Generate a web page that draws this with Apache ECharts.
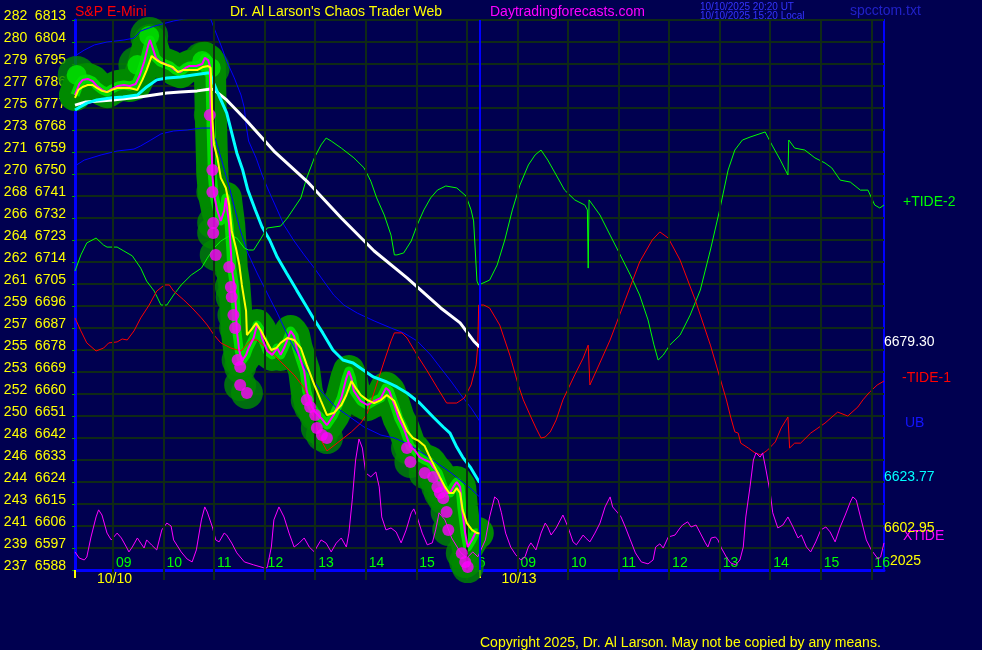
<!DOCTYPE html>
<html><head><meta charset="utf-8">
<script src="https://cdn.jsdelivr.net/npm/echarts@6/dist/echarts.min.js"></script>
<style>html,body{margin:0;padding:0;background:#000050;}#c{width:982px;height:650px;}</style>
</head><body><div id="c"></div>
<script>
// x = minutes of the combined trading timeline (08:15 of 10/10 = 0, 08:15 of 10/13 = 480)
const hourMarks = [45,105,165,225,285,345,405,465,525,585,645,705,765,825,885,945];
const sessionStarts = [0,480];
const sessionDates = ['10/10','10/13'];
const leftScale = [237,239,241,243,244,246,248,250,252,253,255,257,259,261,262,264,266,268,270,271,273,275,277,279,280,282];
const valueTags = [6679.30, 6623.77, 6602.95];
const valueTagColors = ['#ffffff','#00ffff','#ffff00'];

const priceLine = [[0,6782.3],[5,6786.8],[9,6788.5],[15,6788.9],[21,6788.0],[26,6786.0],[32,6784.4],[38,6783.5],[44,6784.8],[51,6786.0],[58,6786.4],[65,6786.0],[72,6786.8],[77,6790.5],[82,6795.8],[87,6802.8],[89,6804.8],[93,6800.7],[96,6797.5],[101,6795.8],[107,6795.0],[113,6794.2],[119,6792.5],[125,6791.7],[131,6793.4],[136,6794.2],[144,6794.2],[151,6795.0],[154,6797.5],[158,6796.6],[160,6794.2],[161,6776.2],[163,6749.6],[165,6741.4],[169,6734.9],[173,6730.8],[177,6734.9],[179,6740.2],[180,6737.3],[183,6729.1],[185,6718.5],[186,6711.5],[189,6704.6],[191,6695.2],[192,6685.8],[195,6677.6],[198,6673.5],[203,6676.0],[206,6678.8],[212,6682.9],[216,6688.2],[220,6686.2],[222,6682.9],[228,6677.6],[234,6676.0],[240,6678.8],[244,6676.0],[248,6678.8],[252,6682.1],[256,6685.8],[260,6683.7],[263,6678.8],[272,6669.4],[275,6661.2],[280,6655.5],[284,6653.0],[292,6650.2],[299,6647.3],[307,6651.4],[316,6658.4],[322,6666.5],[325,6669.4],[328,6666.5],[331,6661.2],[339,6657.1],[347,6655.5],[355,6657.1],[363,6658.4],[369,6662.5],[373,6661.2],[379,6655.5],[384,6650.2],[390,6646.1],[398,6638.3],[403,6637.1],[409,6634.2],[415,6633.0],[421,6632.2],[425,6630.1],[431,6627.7],[437,6622.0],[441,6619.5],[445,6619.5],[449,6622.0],[453,6624.0],[457,6622.0],[459,6613.8],[463,6603.1],[466,6597.4],[471,6600.3],[475,6603.1],[478,6603.1]];

const smoothLine = [[0,6781.1],[4,6784.4],[9,6785.6],[15,6786.4],[21,6786.4],[26,6785.2],[32,6784.0],[38,6783.5],[44,6784.4],[50,6785.2],[57,6785.2],[65,6785.2],[74,6784.4],[80,6788.5],[85,6792.5],[91,6798.3],[97,6796.6],[103,6795.4],[109,6794.6],[116,6793.8],[122,6791.7],[128,6792.5],[136,6792.5],[145,6792.5],[152,6793.8],[158,6794.2],[161,6793.4],[163,6772.9],[165,6761.9],[169,6756.5],[173,6748.4],[179,6744.3],[183,6737.3],[186,6726.7],[191,6719.7],[195,6712.8],[198,6704.6],[203,6694.0],[204,6684.1],[209,6686.2],[215,6689.0],[221,6685.8],[227,6681.7],[233,6678.0],[239,6678.8],[244,6680.9],[252,6682.9],[260,6682.1],[268,6678.8],[275,6671.9],[284,6663.7],[292,6657.1],[299,6651.4],[307,6652.2],[316,6655.5],[322,6659.6],[328,6665.3],[333,6662.5],[339,6659.6],[347,6657.5],[355,6656.3],[363,6657.5],[370,6659.6],[379,6657.1],[387,6650.2],[394,6644.9],[401,6642.0],[408,6640.8],[415,6638.7],[421,6634.2],[427,6630.1],[433,6626.0],[439,6622.0],[444,6619.5],[449,6619.5],[453,6621.5],[457,6619.5],[460,6612.5],[465,6607.2],[471,6604.4],[477,6603.1],[480,6602.95]];

const fastMA = [[0,6776.2],[6,6777.4],[14,6779.0],[26,6780.3],[42,6781.1],[57,6781.5],[74,6782.3],[85,6785.6],[97,6788.5],[109,6789.3],[125,6789.7],[140,6790.5],[157,6791.3],[160,6791.3],[164,6787.6],[172,6781.1],[180,6775.0],[186,6766.8],[192,6758.6],[199,6751.6],[205,6743.5],[214,6735.3],[222,6728.3],[231,6723.0],[240,6716.0],[251,6709.5],[263,6702.5],[275,6695.6],[282,6691.5],[294,6685.0],[306,6678.0],[318,6673.9],[330,6672.7],[342,6669.8],[354,6667.0],[370,6664.9],[382,6662.9],[394,6660.4],[409,6656.3],[425,6650.6],[437,6646.5],[445,6644.0],[453,6638.3],[460,6634.2],[469,6630.1],[480,6623.77]];

const slowMA = [[0,6778.2],[13,6779.5],[45,6780.3],[77,6781.5],[109,6783.1],[125,6783.5],[145,6784.0],[161,6784.8],[165,6784.4],[180,6780.3],[204,6771.7],[236,6759.4],[275,6747.1],[316,6732.0],[355,6718.5],[394,6707.5],[434,6695.2],[457,6689.1],[473,6681.7],[480,6679.3]];

const upperBand = [[0,6798.3],[11,6800.7],[23,6802.8],[38,6804.0],[58,6804.8],[70,6805.6],[78,6808.5],[94,6810.5],[117,6812.6],[129,6813.4],[148,6814.2],[161,6813.4],[165,6809.7],[173,6802.8],[180,6796.2],[189,6789.3],[197,6782.3],[201,6777.0],[203,6770.0],[206,6763.5],[215,6756.5],[222,6749.6],[230,6743.0],[239,6736.1],[248,6729.1],[260,6722.6],[272,6716.9],[284,6711.5],[295,6706.2],[307,6700.5],[319,6696.4],[335,6693.1],[355,6689.9],[375,6687.0],[390,6685.0],[406,6681.7],[422,6676.0],[434,6670.6],[446,6665.3],[458,6659.6],[470,6654.3],[480,6649.0]];

const lowerBand = [[0,6753.3],[11,6755.7],[31,6757.8],[50,6759.4],[70,6760.2],[78,6761.5],[90,6763.9],[102,6766.4],[117,6767.6],[133,6768.0],[150,6768.8],[161,6768.8],[167,6763.9],[174,6755.7],[184,6743.5],[196,6727.1],[205,6717.7],[216,6709.5],[228,6701.3],[240,6693.1],[255,6682.1],[273,6670.6],[291,6661.6],[309,6654.7],[323,6651.4],[343,6646.5],[363,6643.2],[379,6642.0],[398,6639.1],[421,6633.8],[445,6628.1],[469,6621.5],[480,6617.9]];

const tide2 = [[0,6710.3],[7,6716.9],[14,6721.8],[25,6723.8],[34,6720.9],[38,6720.1],[50,6720.1],[58,6718.5],[68,6716.5],[78,6711.5],[85,6706.2],[94,6702.1],[102,6696.4],[109,6696.4],[117,6700.5],[126,6704.6],[138,6708.7],[150,6711.5],[157,6715.6],[165,6719.7],[173,6722.6],[185,6725.0],[192,6723.8],[201,6719.7],[206,6718.9],[212,6718.9],[221,6723.8],[228,6727.9],[244,6728.7],[252,6732.0],[260,6736.1],[268,6740.2],[275,6748.4],[284,6756.6],[292,6761.9],[298,6764.7],[304,6763.5],[316,6760.6],[331,6756.6],[343,6752.5],[351,6747.1],[358,6740.2],[367,6733.2],[375,6725.0],[379,6716.9],[382,6716.9],[390,6717.7],[399,6722.6],[406,6729.1],[414,6735.3],[422,6740.2],[430,6743.4],[440,6745.1],[453,6744.3],[464,6741.0],[470,6735.3],[473,6730.8],[477,6706.2],[479,6704.6],
[492,6706.6],[501,6712.8],[510,6723.0],[519,6735.3],[528,6745.5],[538,6753.7],[546,6757.8],[553,6759.8],[561,6755.7],[571,6749.6],[581,6743.4],[593,6739.4],[605,6737.3],[608,6735.3],[609,6711.5],[610,6739.4],[623,6733.2],[635,6725.0],[647,6716.9],[659,6708.7],[670,6700.5],[680,6690.3],[687,6680.1],[692,6673.9],[698,6675.9],[706,6680.1],[718,6684.1],[730,6692.3],[742,6702.5],[754,6718.9],[765,6735.3],[775,6751.6],[783,6759.8],[792,6763.9],[801,6765.1],[819,6767.2],[827,6761.9],[837,6755.7],[843,6751.6],[846,6749.6],[847,6763.9],[854,6760.6],[866,6759.8],[878,6756.6],[890,6754.5],[898,6752.5],[908,6747.5],[920,6746.7],[932,6743.4],[941,6743.4],[949,6737.3],[955,6736.1],[960,6737.3]];

const tide1 = [[0,6691.1],[7,6685.8],[14,6680.9],[25,6677.6],[34,6678.8],[40,6680.9],[50,6681.3],[56,6682.5],[62,6682.1],[70,6685.8],[78,6691.1],[88,6696.4],[97,6702.1],[106,6704.6],[112,6704.6],[117,6702.1],[129,6698.5],[139,6695.2],[150,6691.1],[157,6688.2],[165,6684.1],[173,6680.9],[185,6678.8],[197,6677.6],[209,6682.1],[216,6682.1],[227,6678.8],[236,6676.0],[248,6671.9],[260,6667.8],[272,6662.5],[279,6655.5],[286,6647.3],[292,6641.2],[299,6636.7],[311,6639.9],[328,6644.5],[339,6648.1],[347,6652.2],[355,6660.8],[367,6673.5],[375,6681.7],[379,6685.0],[388,6685.0],[394,6682.9],[406,6675.9],[418,6669.4],[430,6662.5],[441,6656.3],[453,6656.3],[462,6658.4],[470,6663.7],[476,6671.9],[478,6680.0],[479,6696.4],
[485,6696.4],[492,6695.2],[504,6688.2],[516,6675.9],[526,6663.7],[532,6657.6],[541,6650.6],[547,6646.1],[553,6642.0],[558,6642.4],[564,6644.5],[571,6649.4],[579,6657.6],[593,6667.8],[603,6674.7],[609,6680.0],[611,6663.7],[618,6669.0],[635,6682.1],[653,6698.5],[670,6714.0],[685,6723.0],[694,6726.3],[704,6723.8],[718,6714.8],[736,6698.5],[754,6680.0],[773,6657.6],[778,6650.6],[783,6644.5],[787,6644.0],[790,6639.9],[799,6637.9],[807,6635.9],[814,6635.1],[822,6637.1],[831,6640.4],[838,6646.1],[846,6650.6],[848,6637.9],[854,6639.9],[861,6639.9],[873,6644.0],[890,6648.1],[905,6652.6],[917,6651.0],[929,6654.7],[935,6657.6],[943,6660.8],[952,6663.7],[960,6665.3]];

const xtide = [[0,6595.4],[5,6592.9],[11,6592.1],[14,6593.3],[19,6601.5],[25,6609.7],[28,6612.6],[32,6610.5],[38,6603.1],[43,6600.3],[46,6601.5],[50,6603.1],[55,6601.1],[61,6597.4],[64,6595.4],[68,6597.4],[74,6601.1],[78,6599.0],[82,6597.0],[85,6600.3],[91,6598.2],[97,6596.2],[103,6604.4],[109,6607.2],[114,6606.0],[117,6600.3],[126,6595.4],[133,6592.5],[139,6591.3],[144,6596.2],[150,6608.5],[154,6613.8],[157,6611.7],[163,6605.6],[167,6600.3],[171,6599.5],[177,6603.1],[180,6602.3],[186,6599.0],[192,6595.0],[201,6591.3],[212,6590.1],[224,6588.9],[228,6588.9],[233,6597.4],[236,6608.5],[242,6613.8],[248,6609.7],[254,6603.1],[260,6597.4],[266,6599.0],[272,6601.1],[278,6597.4],[284,6595.4],[287,6597.4],[292,6600.3],[298,6599.0],[304,6595.4],[310,6599.0],[316,6601.1],[322,6597.4],[325,6603.1],[329,6616.7],[333,6633.0],[337,6641.6],[341,6637.9],[345,6627.7],[351,6626.1],[357,6628.1],[361,6622.0],[364,6609.7],[369,6604.4],[375,6605.2],[381,6603.6],[387,6599.1],[393,6604.4],[399,6611.4],[402,6613.0],[406,6609.7],[412,6603.1],[418,6598.3],[424,6599.1],[428,6604.4],[432,6611.4],[439,6608.5],[447,6601.1],[457,6595.4],[465,6592.9],[472,6595.4],
[478,6593.4],[487,6600.3],[492,6609.7],[498,6617.9],[502,6616.7],[506,6611.4],[511,6603.1],[517,6597.4],[523,6594.2],[529,6592.1],[534,6593.4],[538,6597.4],[541,6599.1],[547,6596.2],[553,6603.1],[558,6607.2],[561,6605.6],[565,6602.3],[571,6605.2],[579,6610.5],[585,6605.6],[591,6599.5],[595,6598.3],[599,6600.3],[603,6602.3],[606,6601.1],[611,6599.5],[617,6603.1],[623,6607.2],[629,6613.8],[635,6617.9],[638,6613.8],[644,6611.4],[648,6609.7],[653,6605.6],[659,6600.3],[665,6595.0],[672,6591.3],[680,6590.5],[686,6592.1],[689,6597.4],[694,6598.7],[698,6597.0],[704,6601.5],[712,6602.3],[718,6605.2],[721,6606.4],[727,6607.7],[731,6605.6],[737,6606.4],[742,6603.1],[748,6599.1],[751,6597.4],[755,6601.1],[760,6601.5],[763,6600.3],[767,6597.0],[773,6593.3],[778,6590.9],[784,6590.1],[789,6592.1],[793,6597.4],[796,6609.7],[801,6622.0],[805,6633.0],[808,6635.9],[813,6634.2],[816,6635.9],[820,6628.9],[825,6619.5],[828,6611.4],[834,6605.2],[840,6606.4],[846,6609.7],[852,6605.6],[858,6601.1],[862,6602.3],[868,6597.4],[873,6595.4],[879,6599.5],[885,6604.4],[891,6605.6],[896,6603.6],[902,6599.5],[908,6605.6],[914,6610.5],[920,6615.8],[923,6617.9],[927,6616.7],[933,6608.5],[939,6600.3],[945,6596.2],[953,6592.5],[956,6593.3],[960,6599.1]];

const lowDots = [[160,6774.1],[163,6751.6],[163,6742.6],[164,6730.0],[164,6725.9],[167,6716.9],[183,6712.0],[185,6703.8],[186,6699.7],[188,6692.3],[190,6687.0],[193,6673.9],[196,6671.0],[196,6663.7],[204,6660.4],[275,6657.5],[279,6654.7],[285,6651.4],[287,6646.1],[293,6643.2],[299,6642.0],[394,6637.9],[398,6632.2],[415,6627.7],[425,6626.0],[430,6622.0],[433,6619.5],[437,6617.4],[441,6611.7],[443,6604.4],[459,6594.9],[463,6591.3],[466,6589.2]];

const peakBlobs = [[2,6790.5],[74,6794.6],[88,6806.5],[151,6796.2],[161,6793.4]];

const FONT = 'Liberation Sans, Arial, sans-serif';
const GRID = '#0f2a16';
const chart = echarts.init(document.getElementById('c'), null, {renderer:'canvas'});

function hourLabel(v){ const h = 8 + Math.round(((v % 480) + 15) / 60); return (h < 10 ? '0' : '') + h; }
function txt(x, y, s, color, size){ return {type:'text', left:x, top:y, silent:true, style:{text:s, fill:color, font: size + 'px ' + FONT}}; }

const option = {
  backgroundColor: '#000050',
  animation: false,
  grid: {left:75, right:98, top:20, bottom:80, show:true, backgroundColor:'#000050', borderColor:'#0000ff', borderWidth:2},
  xAxis: [
    {type:'value', min:0, max:960, position:'bottom',
     axisLine:{show:true, onZero:false, lineStyle:{color:'#0000ff', width:3}},
     axisTick:{show:true, customValues:hourMarks, length:10, lineStyle:{color:GRID, width:2}},
     axisLabel:{customValues:hourMarks, inside:true, margin:0, align:'left', padding:[0,0,0,3], color:'#00ff00', fontSize:14, fontFamily:FONT, formatter:hourLabel},
     splitLine:{show:false}},
    {type:'value', min:0, max:960, position:'bottom',
     axisLine:{show:false},
     axisTick:{show:true, customValues:sessionStarts, length:8, lineStyle:{color:'#ffff00', width:2}},
     axisLabel:{customValues:sessionStarts, margin:2, align:'left', padding:[0,0,0,22], color:'#ffff00', fontSize:14, fontFamily:FONT,
       formatter:(v)=> sessionDates[sessionStarts.indexOf(v)]},
     splitLine:{show:false}}
  ],
  yAxis: [
    {type:'value', min:6588, max:6813, interval:9, position:'left',
     axisLine:{show:true, lineStyle:{color:'#0000ff', width:3}},
     axisTick:{show:true, length:3, lineStyle:{color:'#00a000'}},
     axisLabel:{margin:9, color:'#ffff00', fontSize:14, fontFamily:FONT, padding:[0,0,8,0],
       formatter:(v)=>'{a|' + leftScale[Math.round((v-6588)/9)] + '}{b|' + v + '}',
       rich:{a:{width:31, align:'left', color:'#ffff00', fontSize:14, fontFamily:FONT}, b:{color:'#ffff00', fontSize:14, fontFamily:FONT}}},
     splitLine:{show:true, lineStyle:{color:GRID, width:2}}},
    {type:'value', min:6588, max:6813, position:'right',
     axisLine:{show:false}, axisTick:{show:false}, splitLine:{show:false},
     axisLabel:{customValues:valueTags, margin:0, verticalAlign:'bottom', lineHeight:10, fontSize:14, fontFamily:FONT,
       color:(v)=> valueTagColors[valueTags.indexOf(Number(v))] || '#ffffff',
       formatter:(v)=> Number(v).toFixed(2)}}
  ],
  graphic: [
    txt(75, 5, 'S&P E-Mini', '#ff0000', 14),
    txt(230, 5, "Dr. Al Larson's Chaos Trader Web", '#ffff00', 14),
    txt(490, 5, 'Daytradingforecasts.com', '#ff00ff', 14),
    txt(700, 2, '10/10/2025 20:20 UT', '#3434ff', 10),
    txt(700, 11, '10/10/2025 15:20 Local', '#3434ff', 10),
    txt(850, 4, 'spcctom.txt', '#2020c8', 14),
    txt(903, 195, '+TIDE-2', '#00ff00', 14),
    txt(902, 371, '-TIDE-1', '#ff0000', 14),
    txt(905, 416, 'UB', '#1414ff', 14),
    txt(903, 529, 'XTIDE', '#ff00ff', 14),
    txt(890, 554, '2025', '#ffff00', 14),
    txt(480, 636, 'Copyright 2025, Dr. Al Larson. May not be copied by any means.', '#ffff00', 14)
  ],
  series: [
    {name:'grid', type:'line', data:[], z:0, silent:true,
     markLine:{silent:true, symbol:'none', label:{show:false},
       data: hourMarks.map(m=>({xAxis:m, lineStyle:{color:GRID, width:2, type:'solid'}})).concat([{xAxis:480, lineStyle:{color:'#0000ff', width:2, type:'solid'}}])}},
    {name:'glow', type:'line', data:priceLine, clip:false, symbol:'none', z:1, silent:true,
     lineStyle:{color:'#008a00', width:32, cap:'round', join:'round'}},
    {name:'glowDots', type:'scatter', data:lowDots, clip:false, symbolSize:32, z:1, silent:true, itemStyle:{color:'#008a00'}},
    {name:'glowPeaks', type:'scatter', data:peakBlobs, clip:false, symbolSize:38, z:1, silent:true, itemStyle:{color:'#008a00'}},
    {name:'peaks', type:'scatter', data:peakBlobs, clip:false, symbolSize:20, z:2, silent:true, itemStyle:{color:'#00e600'}},
    {name:'spikes', type:'line', data:priceLine, symbol:'none', z:2, silent:true, lineStyle:{color:'#00dd00', width:9, join:'round'}},
    {name:'UB', type:'line', data:upperBand, symbol:'none', z:3, lineStyle:{color:'#0000ff', width:1}},
    {name:'LB', type:'line', data:lowerBand, symbol:'none', z:3, lineStyle:{color:'#0000ff', width:1}},
    {name:'+TIDE-2', type:'line', data:tide2, symbol:'none', z:3, lineStyle:{color:'#00ff00', width:1}},
    {name:'-TIDE-1', type:'line', data:tide1, symbol:'none', z:3, lineStyle:{color:'#ff0000', width:1}},
    {name:'XTIDE', type:'line', data:xtide, symbol:'none', z:3, lineStyle:{color:'#ff00ff', width:1}},
    {name:'slow', type:'line', data:slowMA, symbol:'none', z:4, lineStyle:{color:'#ffffff', width:3}},
    {name:'fast', type:'line', data:fastMA, symbol:'none', z:4, lineStyle:{color:'#00ffff', width:3}},
    {name:'price', type:'line', data:priceLine, symbol:'none', z:5, lineStyle:{color:'#ff00ff', width:2}},
    {name:'dots', type:'scatter', data:lowDots, clip:false, symbolSize:12, z:6, itemStyle:{color:'#ff00ff'}},
    {name:'smooth', type:'line', data:smoothLine, symbol:'none', z:7, lineStyle:{color:'#ffff00', width:2}}
  ]
};
chart.setOption(option);
</script></body></html>
